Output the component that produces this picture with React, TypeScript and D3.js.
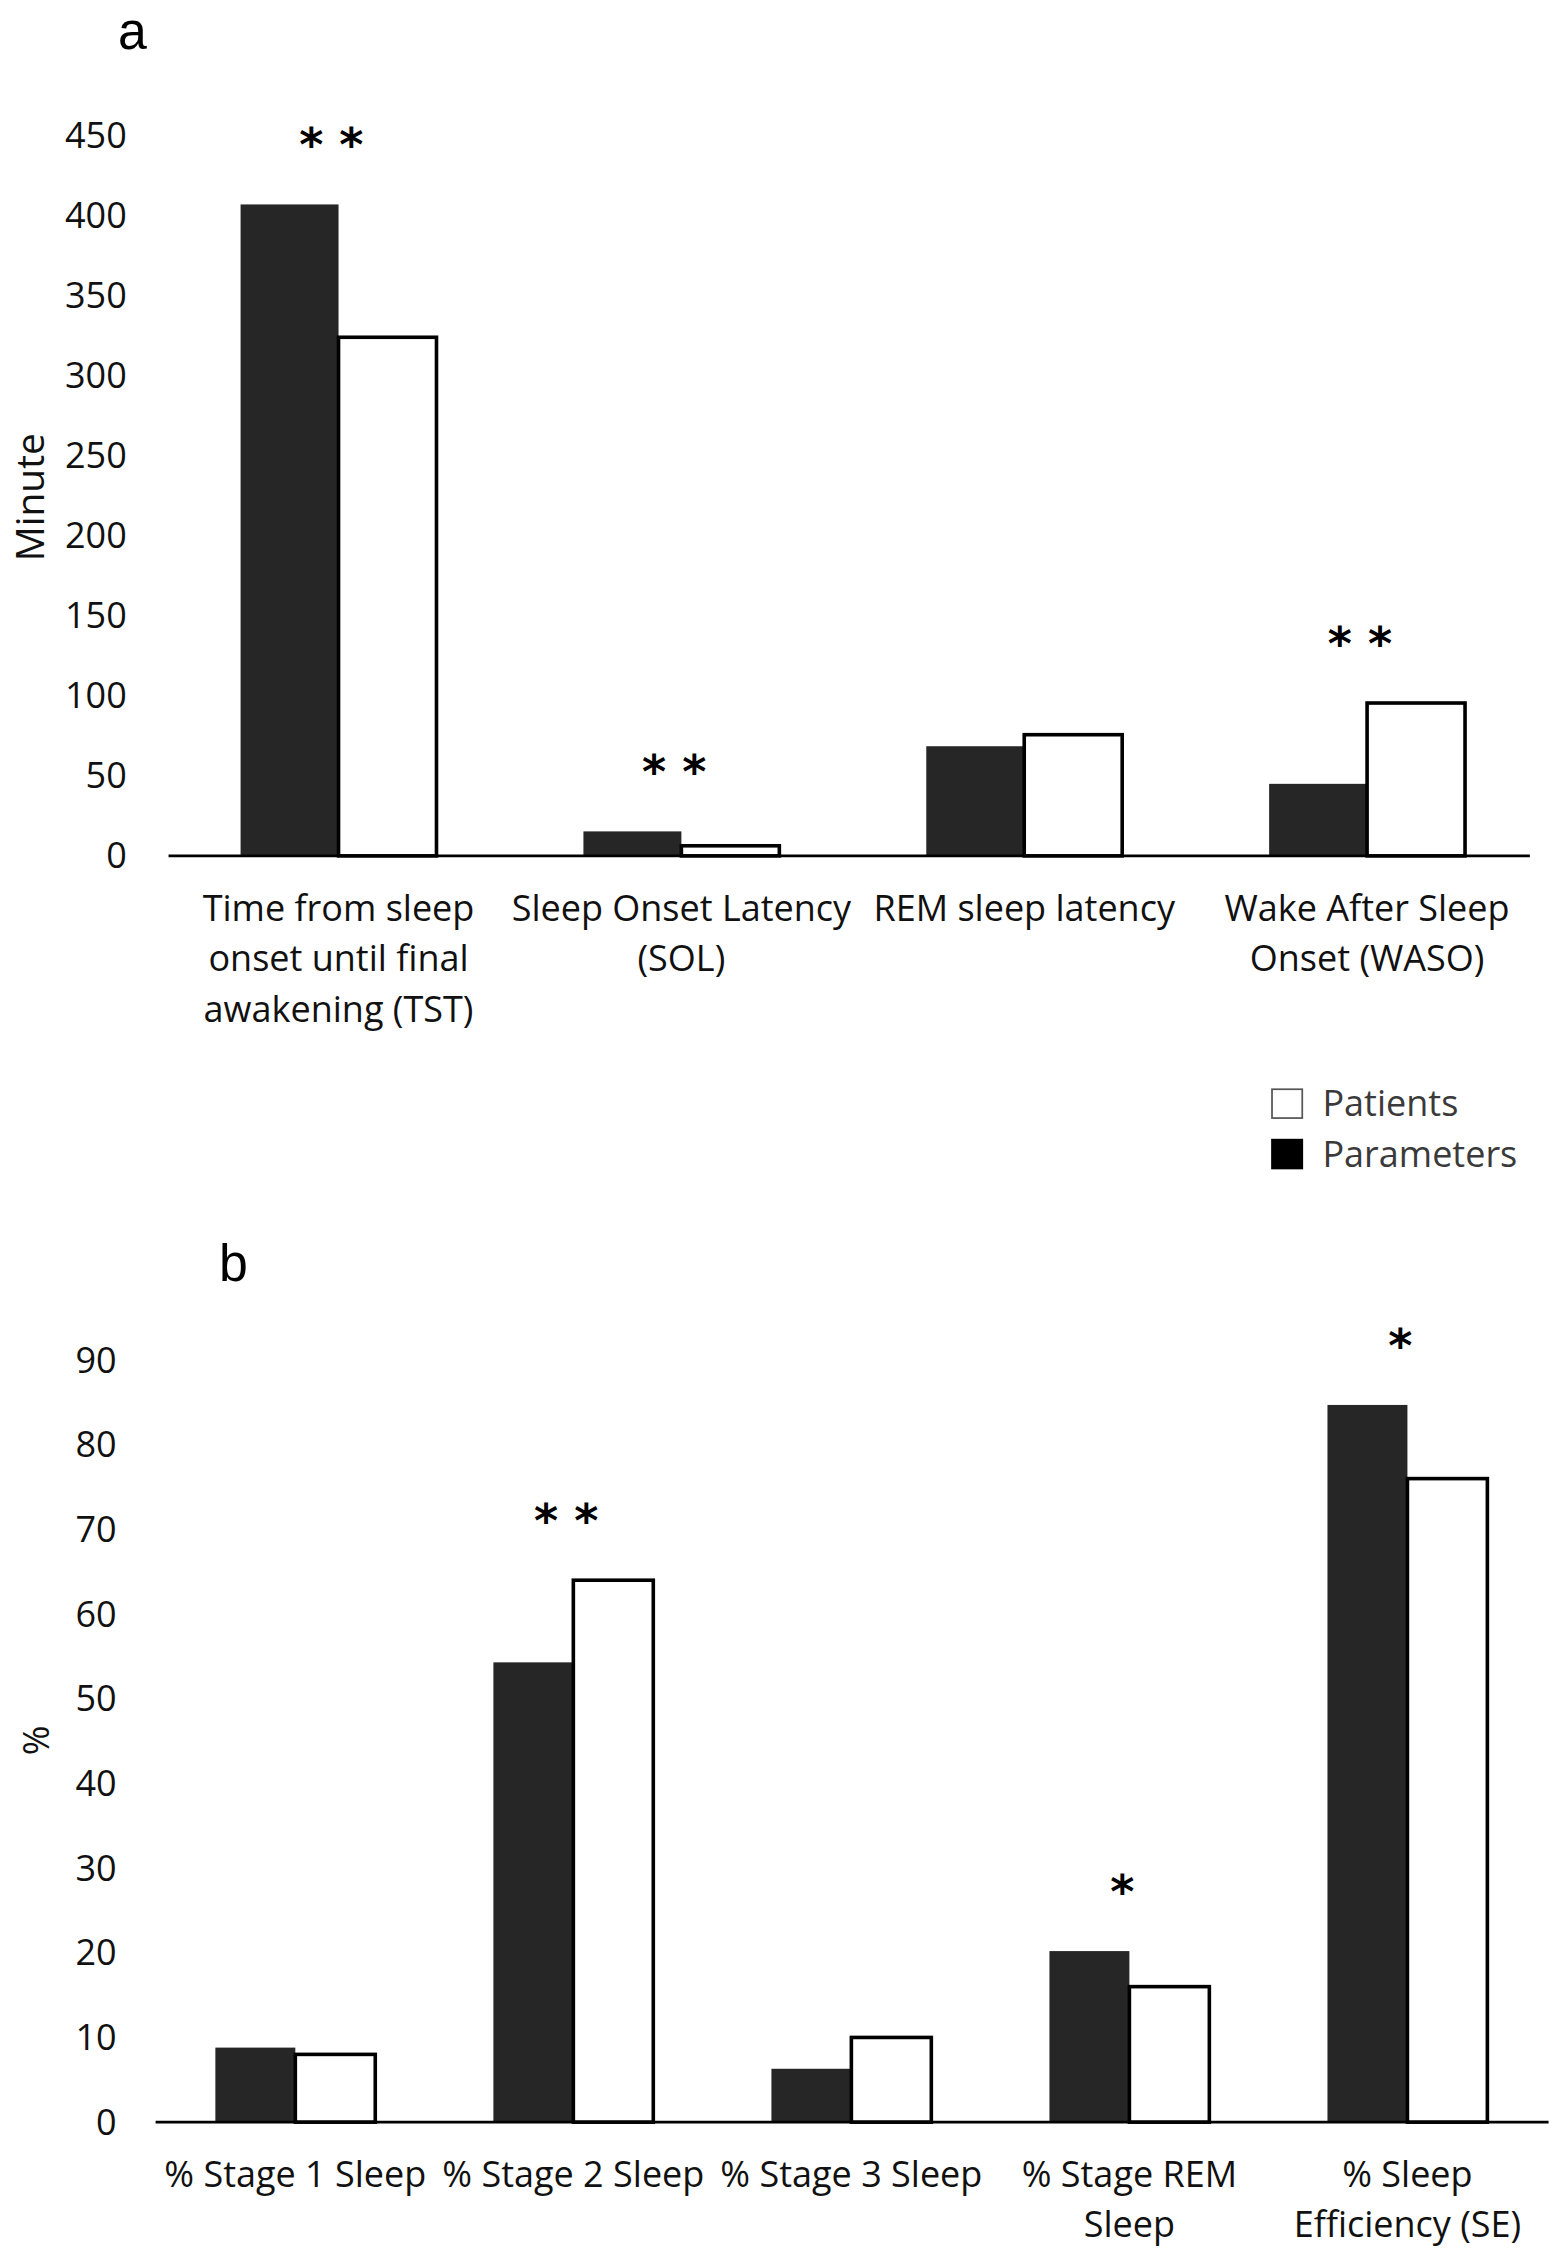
import React, { useRef, useEffect } from "react";
import * as d3 from "d3";

// panel a: minutes
const catsA = [
  ["Time from sleep", "onset until final", "awakening (TST)"],
  ["Sleep Onset Latency", "(SOL)"],
  ["REM sleep latency"],
  ["Wake After Sleep", "Onset (WASO)"],
];
const paramsA = [407, 15.3, 68.5, 45];
const patientsA = [324, 6.3, 75.7, 95.5];
const sigA = ["* *", "* *", "", "* *"];
const ticksA = [0, 50, 100, 150, 200, 250, 300, 350, 400, 450];

// panel b: percent
const catsB = [
  ["% Stage 1 Sleep"],
  ["% Stage 2 Sleep"],
  ["% Stage 3 Sleep"],
  ["% Stage REM", "Sleep"],
  ["% Sleep", "Efficiency (SE)"],
];
const paramsB = [8.8, 54.3, 6.3, 20.2, 84.7];
const patientsB = [8.0, 64.0, 10.0, 16.0, 76.0];
const sigB = ["", "* *", "", "*", "*"];
const ticksB = [0, 10, 20, 30, 40, 50, 60, 70, 80, 90];

const seriesNames = ["Parameters", "Patients"];
const FONT = "'Open Sans', 'Noto Sans', sans-serif";
const DARK = "#262626";

export default function App() {
  const ref = useRef<SVGSVGElement>(null);

  useEffect(() => {
    if (!ref.current) return;
    const svg = d3.select(ref.current);
    svg.selectAll("*").remove();

    const panel = (opts: {
      cats: string[][];
      params: number[];
      patients: number[];
      sig: string[];
      ticks: number[];
      yDomain: [number, number];
      yRange: [number, number];
      xRange: [number, number];
      axisX: [number, number];
      pairWidth: number;
      tickEnd: number;
      yLabel: string;
      yLabelPos: [number, number];
      yLabelSize: number;
      letter: string;
      letterPos: [number, number];
      catY: number;
    }) => {
      const g = svg.append("g");
      const y = d3.scaleLinear().domain(opts.yDomain).range(opts.yRange);
      const x0 = d3
        .scaleBand<number>()
        .domain(opts.cats.map((_, i) => i))
        .range(opts.xRange)
        .padding(0);
      const x1 = d3
        .scaleBand<string>()
        .domain(seriesNames)
        .range([0, opts.pairWidth])
        .padding(0);
      const groupLeft = (i: number) =>
        (x0(i) as number) + x0.bandwidth() / 2 - opts.pairWidth / 2;
      const center = (i: number) => (x0(i) as number) + x0.bandwidth() / 2;

      // y tick labels
      g.selectAll(".ytick")
        .data(opts.ticks)
        .enter()
        .append("text")
        .attr("x", opts.tickEnd)
        .attr("y", (d) => y(d))
        .attr("dy", "0.35em")
        .attr("text-anchor", "end")
        .attr("font-family", FONT)
        .attr("font-size", 25)
        .attr("fill", "#111")
        .text((d) => d);

      // bars
      opts.cats.forEach((_, i) => {
        g.append("rect")
          .attr("x", groupLeft(i) + (x1("Parameters") as number))
          .attr("y", y(opts.params[i]))
          .attr("width", x1.bandwidth())
          .attr("height", y(0) - y(opts.params[i]))
          .attr("fill", DARK);
        g.append("rect")
          .attr("x", groupLeft(i) + (x1("Patients") as number))
          .attr("y", y(opts.patients[i]))
          .attr("width", x1.bandwidth())
          .attr("height", y(0) - y(opts.patients[i]))
          .attr("fill", "#fff")
          .attr("stroke", "#000")
          .attr("stroke-width", 2.5);
        if (opts.sig[i]) {
          const top = Math.max(opts.params[i], opts.patients[i]);
          g.append("text")
            .attr("x", center(i) - 5)
            .attr("y", y(top) - 30)
            .attr("text-anchor", "middle")
            .attr("font-family", "'DejaVu Sans', sans-serif")
            .attr("font-weight", "bold")
            .attr("font-size", 32)
            .attr("fill", "#000")
            .text(opts.sig[i]);
        }
      });

      // baseline
      g.append("line")
        .attr("x1", opts.axisX[0])
        .attr("x2", opts.axisX[1])
        .attr("y1", y(0))
        .attr("y2", y(0))
        .attr("stroke", "#000")
        .attr("stroke-width", 2);

      // category labels
      opts.cats.forEach((lines, i) => {
        const t = g
          .append("text")
          .attr("text-anchor", "middle")
          .attr("font-family", FONT)
          .attr("font-size", 25)
          .attr("fill", "#111");
        lines.forEach((ln, j) => {
          t.append("tspan")
            .attr("x", center(i))
            .attr("y", opts.catY + j * 35)
            .text(ln);
        });
      });

      // y label
      g.append("text")
        .attr(
          "transform",
          `translate(${opts.yLabelPos[0]},${opts.yLabelPos[1]}) rotate(-90)`
        )
        .attr("text-anchor", "middle")
        .attr("dy", "0.35em")
        .attr("font-family", FONT)
        .attr("font-size", opts.yLabelSize)
        .attr("fill", "#111")
        .text(opts.yLabel);

      // panel letter
      g.append("text")
        .attr("x", opts.letterPos[0])
        .attr("y", opts.letterPos[1])
        .attr("text-anchor", "middle")
        .attr("font-family", "'Liberation Sans', Arial, sans-serif")
        .attr("font-size", 36)
        .attr("fill", "#000")
        .text(opts.letter);
    };

    panel({
      cats: catsA,
      params: paramsA,
      patients: patientsA,
      sig: sigA,
      ticks: ticksA,
      yDomain: [0, 450],
      yRange: [594, 94],
      xRange: [116, 1068],
      axisX: [117, 1062],
      pairWidth: 136,
      tickEnd: 88,
      yLabel: "Minute",
      yLabelPos: [21, 345],
      yLabelSize: 27,
      letter: "a",
      letterPos: [92, 34],
      catY: 639,
    });

    panel({
      cats: catsB,
      params: paramsB,
      patients: patientsB,
      sig: sigB,
      ticks: ticksB,
      yDomain: [0, 90],
      yRange: [1473, 944],
      xRange: [108.5, 1073.5],
      axisX: [108, 1075],
      pairWidth: 111,
      tickEnd: 81,
      yLabel: "%",
      yLabelPos: [25, 1208],
      yLabelSize: 25,
      letter: "b",
      letterPos: [162, 889],
      catY: 1518,
    });

    // legend
    const legend = svg.append("g");
    const items = [
      { label: "Patients", fill: "#fff", stroke: "#555" },
      { label: "Parameters", fill: "#000", stroke: "#000" },
    ];
    items.forEach((it, i) => {
      legend
        .append("rect")
        .attr("x", 883)
        .attr("y", 756 + i * 35)
        .attr("width", 21)
        .attr("height", 20)
        .attr("fill", it.fill)
        .attr("stroke", it.stroke)
        .attr("stroke-width", 1.2);
      legend
        .append("text")
        .attr("x", 918)
        .attr("y", 766 + i * 35)
        .attr("dy", "0.35em")
        .attr("font-family", FONT)
        .attr("font-size", 25)
        .attr("fill", "#3a3a3a")
        .text(it.label);
    });
  }, []);

  return (
    <svg
      ref={ref}
      width={1563}
      height={2257}
      viewBox="0 0 1085 1566.5"
      style={{ position: "absolute", left: 0, top: 0, background: "#fff" }}
    />
  );
}
